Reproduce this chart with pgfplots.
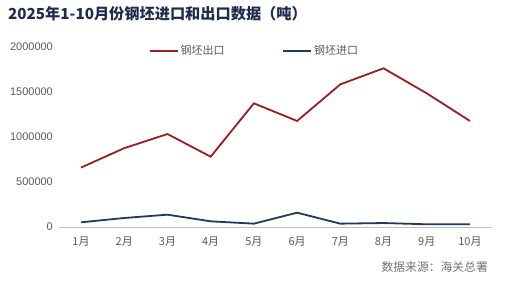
\documentclass[border=0pt]{standalone}
\usepackage{pgfplots}
\pgfplotsset{compat=1.18}
\usepackage{fontspec}
\setmainfont{Liberation Sans}
\newfontfamily\cjk{Noto Sans CJK SC}
\definecolor{expred}{HTML}{9B1C22}
\definecolor{impblue}{HTML}{1F3A5A}
\definecolor{titlec}{HTML}{1F2D4D}
\definecolor{tickc}{HTML}{595959}
\begin{document}
\begin{tikzpicture}
\path (0pt,0pt) rectangle (507pt,288pt);
\node[anchor=base west, font=\cjk\bfseries\fontsize{15.2}{17}\selectfont, text=titlec, inner sep=0pt] at (8pt,268pt) {2025年1-10月份钢坯进口和出口数据（吨）};
\node[anchor=east, font=\cjk\fontsize{11.8}{13}\selectfont, text=tickc!85, inner sep=0pt] at (488pt,21pt) {数据来源：海关总署};
\begin{axis}[
  at={(59.4pt,61pt)}, anchor=south west,
  scale only axis, width=432.2pt, height=180pt,
  xmin=0.5, xmax=10.5, ymin=0, ymax=2000000,
  axis x line*=bottom, axis y line*=left,
  x axis line style={draw=black!25, -},
  y axis line style={draw=none},
  xtick={1,...,10},
  xticklabels={1月,2月,3月,4月,5月,6月,7月,8月,9月,10月},
  xtick style={draw=none},
  x tick label style={font=\cjk\fontsize{11}{12}\selectfont, text=tickc, yshift=-6pt},
  extra x ticks={0.5,1.5,...,10.5},
  extra x tick labels={},
  extra x tick style={tick style={draw=black!25}, major tick length=5pt, tick align=outside, grid=none},
  ytick={0,500000,1000000,1500000,2000000},
  ytick style={draw=none},
  scaled y ticks=false,
  y tick label style={font=\fontsize{11}{13}\selectfont, text=tickc, xshift=-3pt, /pgf/number format/fixed, /pgf/number format/1000 sep={}, /pgf/number format/assume math mode=true},
  legend style={at={(0.2,0.978)}, anchor=west, draw=none, fill=none, legend columns=2,
    font=\cjk\fontsize{11}{12}\selectfont, text=tickc,
    /tikz/every even column/.append style={column sep=56pt}},
  legend image code/.code={\draw[#1, line width=1.5pt] (0pt,0pt) -- (28pt,0pt);},
]
\addplot[expred, line width=1.8pt] coordinates {
(1,660000) (2,876000) (3,1033000) (4,781000) (5,1374000) (6,1178000) (7,1585000) (8,1763000) (9,1485000) (10,1178000)};
\addlegendentry{钢坯出口}
\addplot[impblue, line width=1.8pt] coordinates {
(1,52000) (2,100000) (3,137000) (4,63000) (5,37000) (6,159000) (7,37000) (8,44000) (9,30000) (10,30000)};
\addlegendentry{钢坯进口}
\end{axis}
\end{tikzpicture}
\end{document}
